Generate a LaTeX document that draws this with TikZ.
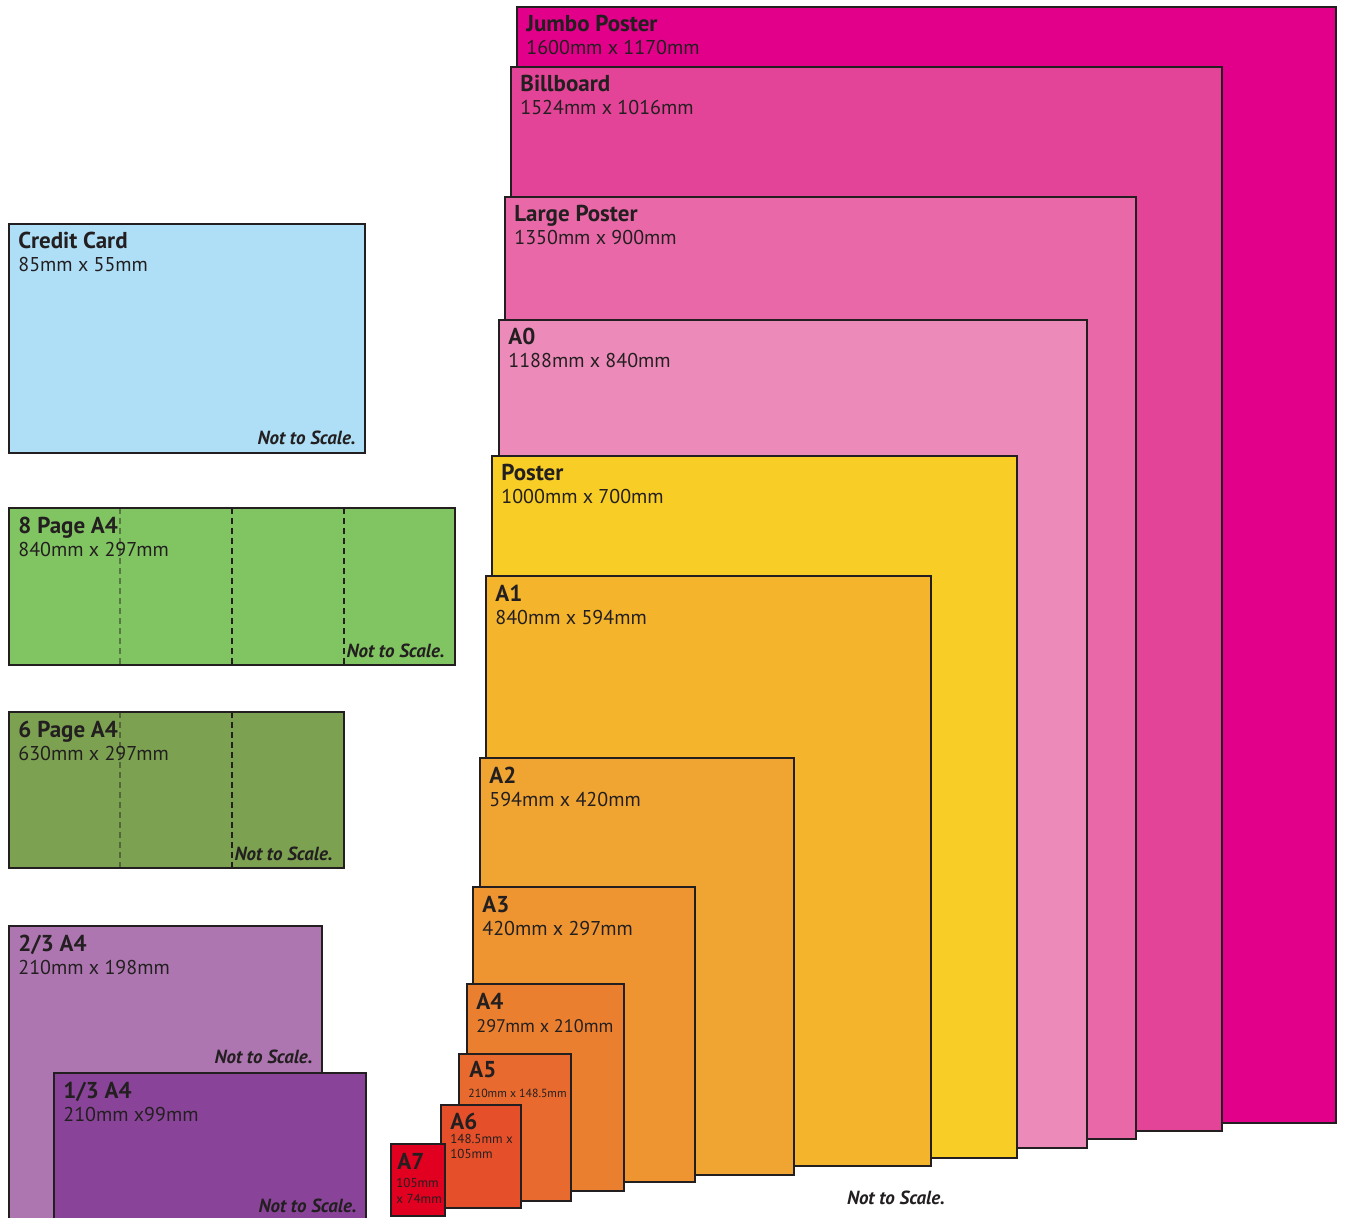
\documentclass[tikz,border=0pt]{standalone}
\usepackage{fontspec}
\setmainfont{PT Sans}

% sheet colours
\definecolor{edgeCol}{HTML}{231F20}
\definecolor{jumboCol}{HTML}{E2008A}
\definecolor{billboardCol}{HTML}{E44497}
\definecolor{largePosterCol}{HTML}{E969A8}
\definecolor{aZeroCol}{HTML}{EC8BB9}
\definecolor{posterCol}{HTML}{F7CD26}
\definecolor{aOneCol}{HTML}{F4B42B}
\definecolor{aTwoCol}{HTML}{F0A431}
\definecolor{aThreeCol}{HTML}{EE9532}
\definecolor{aFourCol}{HTML}{EB7F30}
\definecolor{aFiveCol}{HTML}{E86A2E}
\definecolor{aSixCol}{HTML}{E5502A}
\definecolor{aSevenCol}{HTML}{E1001F}
\definecolor{creditCol}{HTML}{AEDFF7}
\definecolor{eightPageCol}{HTML}{81C462}
\definecolor{sixPageCol}{HTML}{7BA151}
\definecolor{twoThirdCol}{HTML}{AD76B1}
\definecolor{oneThirdCol}{HTML}{894499}

\tikzset{
  sheet/.style={draw=edgeCol, line width=0.75pt},
  sheetTitle/.style={anchor=base west, inner sep=0pt, text=edgeCol,
    font=\fontsize{11.5}{13}\selectfont\bfseries},
  sheetDims/.style={anchor=base west, inner sep=0pt, text=edgeCol,
    font=\fontsize{10}{12}\selectfont},
  tinyDims/.style={sheetDims, font=\fontsize{6.5}{8}\selectfont},
  noScale/.style={anchor=base east, inner sep=0pt, text=edgeCol,
    font=\fontsize{9.5}{11}\selectfont\bfseries\itshape},
  fold/.style={draw=edgeCol, line width=0.6pt, dash pattern=on 3pt off 2pt}
}

\begin{document}
\begin{tikzpicture}[x=0.5pt, y=-0.5pt]
  \useasboundingbox (0,0) rectangle (1347,1218);
  \clip (0,0) rectangle (1347,1218);

  % big sheets, back to front
  \filldraw[sheet, fill=jumboCol] (517,7) rectangle (1336,1123);
  \node[sheetTitle] (jumboTitle) at (526,32) {Jumbo Poster};
  \node[sheetDims]  (jumboDims)  at (526,55) {1600mm x 1170mm};

  \filldraw[sheet, fill=billboardCol] (511,67) rectangle (1222,1131);
  \node[sheetTitle] (billboardTitle) at (520,92)  {Billboard};
  \node[sheetDims]  (billboardDims)  at (520,115) {1524mm x 1016mm};

  \filldraw[sheet, fill=largePosterCol] (505,197) rectangle (1136,1139);
  \node[sheetTitle] (largePosterTitle) at (514,222) {Large Poster};
  \node[sheetDims]  (largePosterDims)  at (514,245) {1350mm x 900mm};

  \filldraw[sheet, fill=aZeroCol] (499,320) rectangle (1087,1148);
  \node[sheetTitle] (aZeroTitle) at (508,345) {A0};
  \node[sheetDims]  (aZeroDims)  at (508,368) {1188mm x 840mm};

  \filldraw[sheet, fill=posterCol] (492,456) rectangle (1017,1158);
  \node[sheetTitle] (posterTitle) at (501,481) {Poster};
  \node[sheetDims]  (posterDims)  at (501,504) {1000mm x 700mm};

  % A series
  \filldraw[sheet, fill=aOneCol] (486,576) rectangle (931,1166);
  \node[sheetTitle] (aOneTitle) at (495,601) {A1};
  \node[sheetDims]  (aOneDims)  at (495,624) {840mm x 594mm};

  \filldraw[sheet, fill=aTwoCol] (480,758) rectangle (794,1175);
  \node[sheetTitle] (aTwoTitle) at (489,783) {A2};
  \node[sheetDims]  (aTwoDims)  at (489,806) {594mm x 420mm};

  \filldraw[sheet, fill=aThreeCol] (473,887) rectangle (695,1182);
  \node[sheetTitle] (aThreeTitle) at (482,912) {A3};
  \node[sheetDims]  (aThreeDims)  at (482,935) {420mm x 297mm};

  \filldraw[sheet, fill=aFourCol] (467,984) rectangle (624,1191);
  \node[sheetTitle] (aFourTitle) at (476,1009) {A4};
  \node[sheetDims, font=\fontsize{9.1}{11}\selectfont] (aFourDims) at (476,1032) {297mm x 210mm};

  \filldraw[sheet, fill=aFiveCol] (459,1054) rectangle (571,1201);
  \node[sheetTitle] (aFiveTitle) at (469,1077) {A5};
  \node[tinyDims, font=\fontsize{5.9}{7}\selectfont] (aFiveDims) at (468,1097) {210mm x 148.5mm};

  \filldraw[sheet, fill=aSixCol] (441,1105) rectangle (521,1208);
  \node[sheetTitle] (aSixTitle) at (450,1129) {A6};
  \node[tinyDims]   (aSixDims)  at (450,1143) {148.5mm x};
  \node[tinyDims]   (aSixDimsB) at (450,1158) {105mm};

  \filldraw[sheet, fill=aSevenCol] (391,1144) rectangle (445,1216);
  \node[sheetTitle] (aSevenTitle) at (397,1169) {A7};
  \node[tinyDims]   (aSevenDims)  at (396,1187) {105mm};
  \node[tinyDims]   (aSevenDimsB) at (396,1203) {x 74mm};

  \node[noScale, anchor=base] (stackNote) at (896,1204) {Not to Scale.};

  % credit card
  \filldraw[sheet, fill=creditCol] (9,224) rectangle (365,453);
  \node[sheetTitle] (creditTitle) at (18,249) {Credit Card};
  \node[sheetDims]  (creditDims)  at (18,272) {85mm x 55mm};
  \node[noScale]    (creditNote)  at (356,445) {Not to Scale.};

  % folded leaflets
  \filldraw[sheet, fill=eightPageCol] (9,508) rectangle (455,665);
  \draw[fold, opacity=.45] (120,508) -- (120,665);
  \draw[fold] (232,508) -- (232,665);
  \draw[fold] (344,508) -- (344,665);
  \node[sheetTitle] (eightPageTitle) at (18,533) {8 Page A4};
  \node[sheetDims]  (eightPageDims)  at (18,556) {840mm x 297mm};
  \node[noScale]    (eightPageNote)  at (445,657) {Not to Scale.};

  \filldraw[sheet, fill=sixPageCol] (9,712) rectangle (344,868);
  \draw[fold, opacity=.45] (120,712) -- (120,868);
  \draw[fold] (232,712) -- (232,868);
  \node[sheetTitle] (sixPageTitle) at (18,737) {6 Page A4};
  \node[sheetDims]  (sixPageDims)  at (18,760) {630mm x 297mm};
  \node[noScale]    (sixPageNote)  at (333,860) {Not to Scale.};

  % part A4 sheets
  \filldraw[sheet, fill=twoThirdCol] (9,926) rectangle (322,1240);
  \node[sheetTitle] (twoThirdTitle) at (18,951) {2/3 A4};
  \node[sheetDims]  (twoThirdDims)  at (18,974) {210mm x 198mm};
  \node[noScale]    (twoThirdNote)  at (313,1063) {Not to Scale.};

  \filldraw[sheet, fill=oneThirdCol] (54,1073) rectangle (366,1240);
  \node[sheetTitle] (oneThirdTitle) at (63,1098) {1/3 A4};
  \node[sheetDims]  (oneThirdDims)  at (63,1121) {210mm x99mm};
  \node[noScale]    (oneThirdNote)  at (357,1212) {Not to Scale.};
\end{tikzpicture}
\end{document}
